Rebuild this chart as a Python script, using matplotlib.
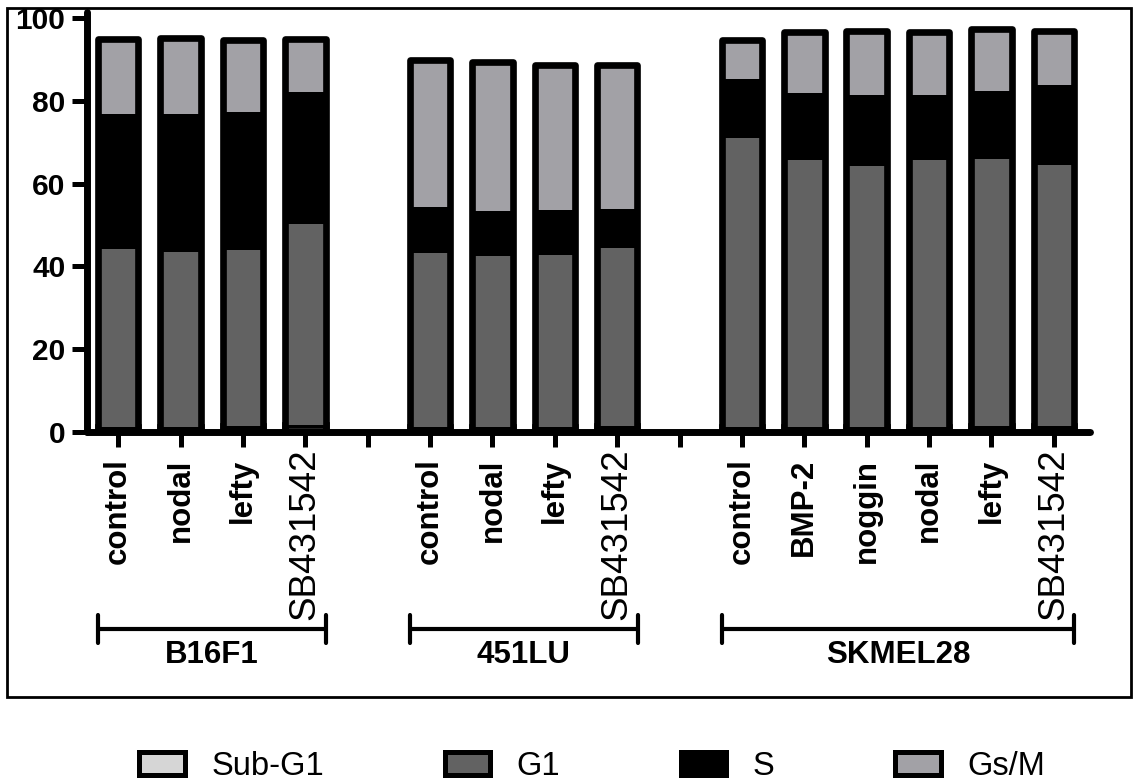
import matplotlib
matplotlib.use("Agg")
import matplotlib.pyplot as plt
from matplotlib.patches import Patch, Rectangle
from matplotlib.transforms import blended_transform_factory, ScaledTranslation

plt.rcParams['font.family'] = ['Liberation Sans', 'DejaVu Sans']

# Cell lines and the treatments measured in each
groups = ["B16F1", "451LU", "SKMEL28"]
group_sizes = [4, 4, 6]
conditions = ["control", "nodal", "lefty", "SB431542",
              "control", "nodal", "lefty", "SB431542",
              "control", "BMP-2", "noggin", "nodal", "lefty", "SB431542"]

# Cell-cycle phase distribution (% of cells)
sub_g1 = [1.2, 1.2, 1.3, 1.5, 1.2, 1.2, 1.2, 1.3, 1.2, 1.2, 1.2, 1.2, 1.3, 1.3]
g1 = [43.0, 42.2, 42.5, 48.8, 42.1, 41.2, 41.4, 43.0, 69.9, 64.5, 63.0, 64.5, 64.7, 63.1]
s_phase = [32.7, 33.5, 33.6, 31.9, 10.9, 10.9, 11.1, 9.6, 14.2, 16.2, 17.2, 15.7, 16.5, 19.5]
g2m = [18.1, 18.3, 17.2, 12.8, 35.7, 36.0, 35.0, 34.8, 9.4, 14.7, 15.4, 15.2, 14.9, 13.1]

phase_names = ["Sub-G1", "G1", "S", "Gs/M"]
phase_colors = ["#d6d6d6", "#626262", "#000000", "#a2a1a6"]

# bar slots, leaving one empty slot between cell lines
positions = []
slot = 0
for n in group_sizes:
    positions.extend(range(slot, slot + n))
    slot += n + 1
last_slot = positions[-1]

fig = plt.figure(figsize=(11.34, 7.83), dpi=100)
ax = fig.add_axes([0.0767, 0.4489, 0.8845, 0.5358])

width = 0.65
bottom = [0.0] * len(positions)
for i, (vals, col) in enumerate(zip([sub_g1, g1, s_phase, g2m], phase_colors)):
    # the thin Sub-G1 slice sits under the bar's heavy border
    edge = "black" if i == 0 else "none"
    ax.bar(positions, vals, width=width, bottom=bottom, color=col,
           edgecolor=edge, linewidth=4.8, zorder=2)
    bottom = [b + v for b, v in zip(bottom, vals)]

# thick outline around each stacked bar
ax.bar(positions, bottom, width=width, fill=False, edgecolor="black",
       linewidth=4.8, joinstyle="round", zorder=3)

ax.set_xlim(-0.5, last_slot + 0.58)
ax.set_ylim(0, 101.5)

for side in ["top", "right"]:
    ax.spines[side].set_visible(False)
for side in ["left", "bottom"]:
    ax.spines[side].set_linewidth(5)
    ax.spines[side].set_capstyle("round")
    ax.spines[side].set_zorder(4)

ax.set_yticks([0, 20, 40, 60, 80, 100])
ax.tick_params(axis="y", length=10.5, width=3.6, pad=5, labelsize=21.5)
for lab in ax.get_yticklabels():
    lab.set_fontweight("bold")

tick_labels = [""] * (last_slot + 1)
for p, c in zip(positions, conditions):
    tick_labels[p] = c
ax.set_xticks(range(last_slot + 1))
ax.set_xticklabels(tick_labels, rotation=90, va="top", ha="center")
ax.tick_params(axis="x", length=10.5, width=3.6, pad=2)
for lab in ax.get_xticklabels():
    if lab.get_text() == "SB431542":
        lab.set_fontsize(26.5)
        lab.set_fontweight("normal")
    else:
        lab.set_fontsize(22.5)
        lab.set_fontweight("bold")
        lab.set_transform(lab.get_transform() +
                          ScaledTranslation(0, -7 / 72, fig.dpi_scale_trans))

# cell-line brackets under the tick labels
trans = blended_transform_factory(ax.transData, fig.transFigure)
start = 0
for name, n in zip(groups, group_sizes):
    idx = positions[start:start + n]
    x0, x1 = idx[0] - 0.32, idx[-1] + 0.33
    ax.plot([x0, x1], [0.1967, 0.1967], transform=trans, clip_on=False,
            color="black", lw=3, solid_capstyle="butt")
    for xe in (x0, x1):
        ax.plot([xe, xe], [0.1788, 0.2146], transform=trans, clip_on=False,
                color="black", lw=3, solid_capstyle="round")
    ax.text((x0 + x1) / 2, 0.1533, name, transform=trans, ha="center",
            va="baseline", fontsize=22.5, fontweight="bold")
    start += n

# box around the chart area
fig.add_artist(Rectangle((0.006, 0.1098), 0.9914, 0.8800,
                         transform=fig.transFigure, fill=False,
                         linewidth=2, edgecolor="black"))

handles = [Patch(facecolor=c, edgecolor="black", linewidth=3.6,
                 joinstyle="round") for c in phase_colors]
fig.legend(handles, phase_names, loc="center", bbox_to_anchor=(0.522, 0.021),
           ncol=4, frameon=False, fontsize=23.5, handlelength=1.4,
           handleheight=0.7, handletextpad=0.8, columnspacing=3.7,
           borderpad=0.1)

fig.savefig("out.png", dpi=100)
